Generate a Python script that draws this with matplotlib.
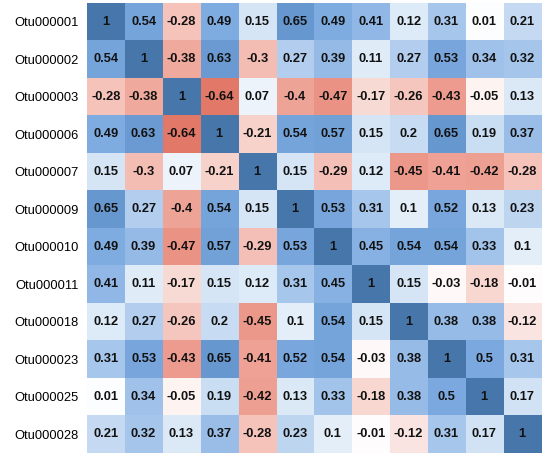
import numpy as np
import matplotlib
matplotlib.use("Agg")
import matplotlib.pyplot as plt
from matplotlib.colors import LinearSegmentedColormap

otus = ["Otu000001", "Otu000002", "Otu000003", "Otu000006", "Otu000007", "Otu000009",
        "Otu000010", "Otu000011", "Otu000018", "Otu000023", "Otu000025", "Otu000028"]

corr = [
    [1, 0.54, -0.28, 0.49, 0.15, 0.65, 0.49, 0.41, 0.12, 0.31, 0.01, 0.21],
    [0.54, 1, -0.38, 0.63, -0.3, 0.27, 0.39, 0.11, 0.27, 0.53, 0.34, 0.32],
    [-0.28, -0.38, 1, -0.64, 0.07, -0.4, -0.47, -0.17, -0.26, -0.43, -0.05, 0.13],
    [0.49, 0.63, -0.64, 1, -0.21, 0.54, 0.57, 0.15, 0.2, 0.65, 0.19, 0.37],
    [0.15, -0.3, 0.07, -0.21, 1, 0.15, -0.29, 0.12, -0.45, -0.41, -0.42, -0.28],
    [0.65, 0.27, -0.4, 0.54, 0.15, 1, 0.53, 0.31, 0.1, 0.52, 0.13, 0.23],
    [0.49, 0.39, -0.47, 0.57, -0.29, 0.53, 1, 0.45, 0.54, 0.54, 0.33, 0.1],
    [0.41, 0.11, -0.17, 0.15, 0.12, 0.31, 0.45, 1, 0.15, -0.03, -0.18, -0.01],
    [0.12, 0.27, -0.26, 0.2, -0.45, 0.1, 0.54, 0.15, 1, 0.38, 0.38, -0.12],
    [0.31, 0.53, -0.43, 0.65, -0.41, 0.52, 0.54, -0.03, 0.38, 1, 0.5, 0.31],
    [0.01, 0.34, -0.05, 0.19, -0.42, 0.13, 0.33, -0.18, 0.38, 0.5, 1, 0.17],
    [0.21, 0.32, 0.13, 0.37, -0.28, 0.23, 0.1, -0.01, -0.12, 0.31, 0.17, 1],
]

# colour stops (value -> rgb)
stops = [
    (-1.0, (205, 70, 60)),
    (-0.64, (225, 120, 104)),
    (-0.45, (236, 152, 138)),
    (-0.28, (245, 195, 186)),
    (0.0, (255, 255, 255)),
    (0.15, (214, 230, 246)),
    (0.3, (170, 200, 236)),
    (0.5, (124, 170, 224)),
    (0.65, (104, 152, 208)),
    (1.0, (70, 118, 170)),
]
cmap = LinearSegmentedColormap.from_list(
    "corr", [((v + 1) / 2, tuple(c / 255 for c in rgb)) for v, rgb in stops])

plt.rcParams["font.family"] = ["Liberation Sans", "DejaVu Sans"]

data = np.array(corr)
fig = plt.figure(figsize=(5.46, 4.58), dpi=100)
ax = fig.add_axes([0.159, 0.011, 0.832, 0.982])
ax.imshow(data, cmap=cmap, vmin=-1, vmax=1, aspect="auto", interpolation="nearest")

for i in range(len(otus)):
    for j in range(len(otus)):
        v = corr[i][j]
        txt = "1" if v == 1 else ("%g" % v)
        ax.text(j, i, txt, ha="center", va="center", fontsize=9.3,
                fontweight="bold", color="#111111")

ax.set_yticks(range(len(otus)))
ax.set_yticklabels(otus, fontsize=9.3)
ax.set_xticks([])
ax.tick_params(axis="y", length=0, pad=6)
for s in ax.spines.values():
    s.set_visible(False)

fig.savefig("out.png", dpi=100)
